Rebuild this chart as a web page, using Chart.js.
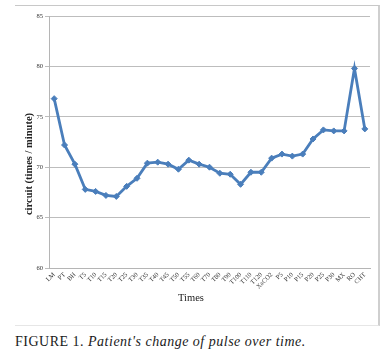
<!DOCTYPE html>
<html>
<head>
<meta charset="utf-8">
<script src="https://cdn.jsdelivr.net/npm/chart.js@4.4.0/dist/chart.umd.min.js"></script>
<style>
  html,body{margin:0;padding:0;background:#fff;}
  #wrap{position:relative;width:388px;height:358px;overflow:hidden;}
  #frame{position:absolute;left:15px;top:5px;width:363px;height:319px;border-top:1px solid #c8c8c8;border-right:2px solid #cfcfcf;border-bottom:1px solid #e6e6e6;}
  #cv{position:absolute;left:0;top:0;}
  #cap{position:absolute;left:15px;top:334px;font-family:"Liberation Serif",serif;font-size:14px;letter-spacing:0.5px;color:#1a1a1a;white-space:nowrap;}
  #cap i{font-style:italic;}
</style>
</head>
<body>
<div id="wrap">
  <div id="frame"></div>
  <canvas id="cv" width="388" height="330"></canvas>
  <div id="cap">FIGURE 1. <i>Patient's change of pulse over time.</i></div>
</div>
<script>
const categories = ["LM","PT","BH","T5","T10","T15","T20","T25","T30","T35","T40","T45","T50","T55","T60","T70","T80","T90","T100","T110","T120","XaCO2","P5","P10","P15","P20","P25","P30","MX","RO","CHT"];
const pulse = [76.8,72.2,70.3,67.8,67.6,67.2,67.1,68.1,68.9,70.4,70.5,70.3,69.8,70.7,70.3,70.0,69.4,69.3,68.3,69.5,69.5,70.9,71.3,71.1,71.3,72.8,73.7,73.6,73.6,79.8,73.8];
const yTicks = [60,65,70,75,80,85];
const yTitle = "circuit (times / minute)";
const xTitle = "Times";

const titlePlugin = {
  id:'axisTitles',
  afterDraw(chart){
    const c = chart.ctx;
    c.save();
    c.fillStyle = '#222';
    c.font = 'bold 10.5px "Liberation Serif", serif';
    c.textAlign='center'; c.textBaseline='middle';
    c.translate(29,164);
    c.rotate(-Math.PI/2);
    c.fillText(yTitle,0,0);
    c.restore();
    c.save();
    c.fillStyle = '#222';
    c.font = '10.5px "Liberation Serif", serif';
    c.textAlign='center'; c.textBaseline='middle';
    c.fillText(xTitle,191,298);
    c.restore();
  }
};

new Chart(document.getElementById('cv'),{
  type:'line',
  data:{labels:categories,datasets:[{
    data:pulse,
    borderColor:'#4a7ebb',
    backgroundColor:'#4a7ebb',
    borderWidth:2.8,
    pointStyle:'rectRot',
    pointRadius:3,
    pointBorderWidth:1,
    tension:0
  }]},
  options:{
    responsive:false,
    animation:false,
    devicePixelRatio:1,
    layout:{padding:{top:16,right:18,left:0,bottom:0}},
    plugins:{legend:{display:false},tooltip:{enabled:false}},
    scales:{
      x:{
        offset:true,
        grid:{display:false,drawTicks:false},
        border:{color:'#b5b5b5',width:1},
        ticks:{
          autoSkip:false,maxRotation:45,minRotation:45,padding:3,
          color:'#333',font:{family:'"Liberation Serif", serif',size:6.5}
        },
        afterFit(s){s.height=62;}
      },
      y:{
        min:60,max:85,
        afterBuildTicks(s){s.ticks=yTicks.map(v=>({value:v}));},
        grid:{color:'#bdbdbd',lineWidth:1,tickLength:4,tickColor:'#bdbdbd'},
        border:{color:'#b5b5b5',width:1},
        ticks:{color:'#333',padding:2,font:{family:'"Liberation Serif", serif',size:6.5}},
        afterFit(s){s.width=49;}
      }
    }
  },
  plugins:[titlePlugin]
});
</script>
</body>
</html>
